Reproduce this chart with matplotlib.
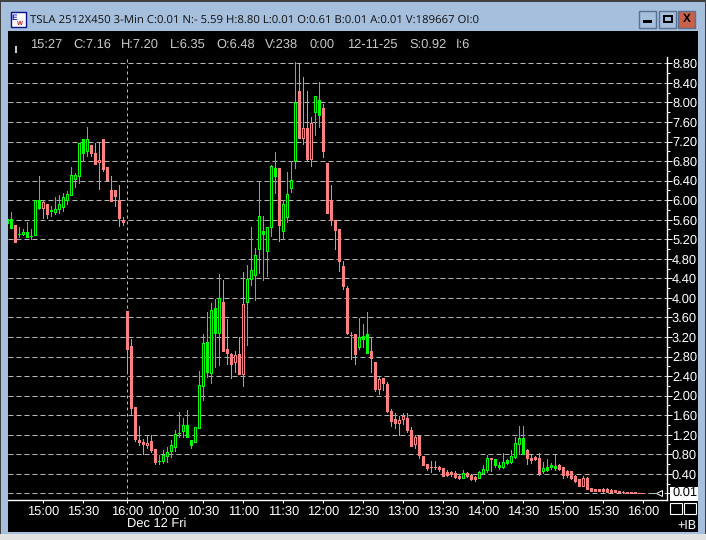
import numpy as np
import matplotlib
matplotlib.use('Agg')
import matplotlib.pyplot as plt
from matplotlib.patches import Rectangle
from matplotlib.transforms import blended_transform_factory

plt.rcParams['font.family'] = ['Liberation Sans', 'DejaVu Sans']
plt.rcParams['lines.scale_dashes'] = False
plt.rcParams['text.hinting'] = 'none'

# 3-min bars
opens = [5.61,5.61,5.49,5.30,5.30,5.34,5.275,5.29,6.00,5.84,
         5.93,5.80,5.75,5.82,5.87,6.00,6.10,6.43,6.49,7.25,
         7.00,7.13,6.97,6.78,7.25,6.67,6.21,6.21,6.01,5.60,
         3.74,3.02,1.76,1.10,1.06,0.98,1.08,0.90,0.67,0.67,
         0.76,0.87,0.95,1.24,1.28,1.39,1.10,1.05,1.34,2.20,
         3.10,2.47,3.80,3.29,3.92,2.96,2.86,2.69,2.86,2.45,
         3.91,4.39,4.46,5.01,5.36,4.96,5.46,6.66,6.66,5.37,
         5.65,6.25,6.80,8.23,7.28,7.47,6.85,7.81,8.06,7.88,
         6.77,6.00,5.60,5.41,4.66,4.21,3.25,3.26,2.99,3.22,
         3.26,2.91,2.69,2.13,2.36,2.24,1.69,1.52,1.43,1.52,
         1.54,1.30,1.00,1.17,0.76,0.59,0.54,0.53,0.53,0.51,
         0.44,0.43,0.41,0.36,0.32,0.41,0.38,0.34,0.32,0.41,
         0.48,0.72,0.71,0.58,0.53,0.68,0.64,0.74,1.00,1.13,
         0.88,0.72,0.74,0.73,0.45,0.53,0.58,0.56,0.58,0.53,
         0.46,0.46,0.36,0.29,0.15,0.32,0.10,0.08,0.08,0.09,
         0.08,0.07,0.06,0.05,0.03,0.03,0.02,0.02,0.015,0.01]
highs = [5.61,5.755,5.49,5.45,5.40,5.56,5.40,6.00,6.50,6.00,
         5.93,5.88,6.06,6.11,6.15,6.19,6.67,6.56,7.17,7.25,
         7.50,7.13,7.16,7.16,7.25,6.67,6.50,6.21,6.30,5.66,
         3.74,3.15,1.76,1.37,1.12,1.20,1.20,0.90,0.78,0.88,
         0.95,1.10,1.30,1.66,1.54,1.70,1.10,1.36,2.50,3.27,
         3.72,3.90,3.97,4.48,4.36,3.56,2.87,2.92,3.19,4.52,
         4.67,5.46,5.02,6.37,5.67,5.46,6.72,6.99,6.66,6.01,
         6.58,6.80,8.82,8.78,8.53,8.23,7.71,8.14,8.41,7.96,
         6.77,6.32,5.60,5.41,4.76,4.25,3.30,3.26,3.59,3.47,
         3.71,3.19,2.69,2.41,2.36,2.28,1.72,1.64,1.59,1.64,
         1.64,1.35,1.20,1.17,0.76,0.59,0.67,0.67,0.55,0.52,
         0.47,0.45,0.45,0.37,0.48,0.44,0.39,0.36,0.45,0.58,
         0.79,0.72,0.71,0.65,0.82,0.71,0.89,1.15,1.37,1.38,
         0.90,0.81,0.77,0.82,0.64,0.71,0.63,0.79,0.60,0.53,
         0.48,0.46,0.38,0.30,0.36,0.34,0.11,0.09,0.09,0.10,
         0.10,0.08,0.07,0.05,0.04,0.03,0.02,0.02,0.015,0.01]
lows = [5.54,5.44,5.15,5.25,5.29,5.25,5.20,5.28,5.82,5.64,
        5.64,5.68,5.72,5.73,5.78,5.93,6.10,6.26,6.35,6.80,
        6.90,6.90,6.75,6.23,6.59,6.41,5.99,5.88,5.47,5.49,
        2.47,1.63,1.07,0.98,0.80,0.93,0.85,0.59,0.59,0.62,
        0.65,0.74,0.87,1.15,1.15,1.15,0.93,1.05,1.34,1.91,
        2.39,2.26,2.59,2.62,2.91,2.65,2.37,2.49,2.45,2.20,
        3.04,4.26,3.95,4.50,4.37,4.44,5.26,6.15,5.17,5.21,
        5.56,6.16,6.65,7.28,7.14,6.80,6.69,7.34,7.49,6.89,
        5.74,5.49,5.00,4.54,4.19,3.26,2.75,2.65,2.95,2.99,
        2.87,2.48,2.09,2.03,2.11,1.66,1.37,1.33,1.20,1.41,
        1.25,0.96,0.92,0.72,0.57,0.47,0.43,0.50,0.45,0.35,
        0.36,0.36,0.32,0.30,0.31,0.33,0.28,0.25,0.31,0.40,
        0.44,0.46,0.53,0.49,0.51,0.60,0.62,0.73,0.81,0.81,
        0.60,0.62,0.68,0.38,0.42,0.46,0.49,0.47,0.47,0.32,
        0.34,0.29,0.24,0.14,0.14,0.08,0.04,0.04,0.04,0.03,
        0.03,0.02,0.02,0.02,0.01,0.015,0.015,0.01,0.01,0.01]
closes = [5.54,5.44,5.15,5.30,5.34,5.25,5.275,6.00,5.84,5.96,
          5.72,5.77,5.82,5.93,6.06,6.13,6.52,6.52,7.17,6.97,
          7.25,6.97,6.75,6.83,6.64,6.41,5.99,6.09,5.64,5.56,
          2.95,1.75,1.11,1.06,1.01,1.03,0.88,0.65,0.67,0.78,
          0.85,0.98,1.22,1.24,1.39,1.15,0.98,1.36,2.21,3.08,
          2.48,3.76,3.29,4.00,2.92,2.88,2.65,2.83,2.45,3.87,
          4.38,4.58,4.87,5.67,5.31,5.46,6.69,6.50,5.49,5.92,
          6.12,6.41,8.00,7.28,7.47,6.85,7.57,8.14,7.75,7.00,
          5.74,5.60,5.39,4.75,4.25,3.28,3.24,2.85,3.19,3.16,
          2.87,2.77,2.13,2.33,2.26,1.68,1.48,1.43,1.51,1.58,
          1.29,0.96,1.16,0.78,0.57,0.51,0.54,0.53,0.49,0.36,
          0.38,0.39,0.34,0.32,0.41,0.36,0.30,0.29,0.43,0.49,
          0.72,0.71,0.57,0.53,0.64,0.63,0.77,1.03,1.13,0.81,
          0.72,0.68,0.70,0.42,0.51,0.48,0.53,0.52,0.49,0.38,
          0.38,0.31,0.25,0.15,0.32,0.09,0.05,0.05,0.04,0.04,
          0.03,0.03,0.03,0.02,0.02,0.015,0.015,0.01,0.01,0.01]
# G = up on the previous close, R = down
tick_dir = ('GGRGGGGGGRRGGGGGGGGGGRRRRRRRRR' + 'R'*8 + 'G'*16 + 'R'*6 + 'G'*8 + 'R'
            + 'G'*4 + 'R'*4 + 'G'*2 + 'R'*9 + 'G'*3 + 'R'*23 + 'G' + 'R'*3 + 'G'*3
            + 'R' + 'G'*8 + 'R'*4 + 'G'*4 + 'R'*22)

time_pos = [9, 19, 30, 39, 49, 59, 69, 79, 89, 99, 109, 119, 129, 139, 149, 159]
time_labels = ['15:00', '15:30', '16:00', '10:00', '10:30', '11:00', '11:30', '12:00',
               '12:30', '13:00', '13:30', '14:00', '14:30', '15:00', '15:30', '16:00']
price_ticks = [0.40, 0.80, 1.20, 1.60, 2.00, 2.40, 2.80, 3.20, 3.60, 4.00, 4.40,
               4.80, 5.20, 5.60, 6.00, 6.40, 6.80, 7.20, 7.60, 8.00, 8.40, 8.80]
minor_ticks = [0.20, 0.60, 1.00, 1.40, 1.80, 2.20, 2.60, 3.00, 3.40, 3.80, 4.20,
               4.60, 5.00, 5.40, 5.80, 6.20, 6.60, 7.00, 7.40, 7.80, 8.20, 8.60]

title = 'TSLA 2512X450 3-Min C:0.01 N:- 5.59 H:8.80 L:0.01 O:0.61 B:0.01 A:0.01 V:189667 OI:0'
status_labels = ['15:27', 'C:7.16', 'H:7.20', 'L:6.35', 'O:6.48', 'V:238', '0:00',
                 '12-11-25', 'S:0.92', 'I:6']
status_x = [30, 73, 121, 170, 216, 265, 310, 347, 409, 456]

GREEN = '#00ff00'
RED = '#ff8080'
GRID = '#b8b8b8'
W, H = 706, 540
PX = 0.72  # one pixel in points at dpi 100
DASH = (0, (5 * PX, 3 * PX))
LABEL_SIZE = 9.3


def draw_window(fig):
    # window frame, in pixel coordinates
    ax = fig.add_axes([0, 0, 1, 1])
    ax.set_xlim(0, W)
    ax.set_ylim(H, 0)
    ax.axis('off')
    ax.add_patch(Rectangle((0, 0), W, H, fc='#a6bfdc', ec='none'))
    ax.add_patch(Rectangle((0, 0), W, 1.5, fc='#404040', ec='none'))
    ax.add_patch(Rectangle((0, 0), 1, H, fc='#404040', ec='none'))
    ax.add_patch(Rectangle((705, 0), 1, H, fc='#404040', ec='none'))
    ax.add_patch(Rectangle((0, 534), W, 6, fc='#e2e2e2', ec='none'))
    ax.add_patch(Rectangle((8, 31), 690, 501, fc='black', ec='none'))

    # app icon
    ax.add_patch(Rectangle((10.5, 11.5), 15, 15, fc='white', ec='#10108a', lw=1))
    ax.text(11.5, 18, 'E', color='#1010d0', fontsize=6, fontweight='bold', va='center')
    ax.text(17, 23, 'W', color='#d01010', fontsize=4.5, fontweight='bold', va='center')

    ax.text(30, 20, title, color='#101010', fontsize=8.2, va='center', family='Open Sans')

    # window buttons
    for x0, col in [(639, '#a6bfdc'), (659, '#a6bfdc'), (678, '#c8604a')]:
        ax.add_patch(Rectangle((x0, 10.5), 17, 17, fc=col, ec='#5a7090', lw=1))
    ax.add_patch(Rectangle((643, 20), 9, 2.5, fc='black', ec='none'))
    ax.add_patch(Rectangle((663.5, 15.5), 8, 6, fc='none', ec='black', lw=1.4))
    ax.text(686.5, 19, 'X', color='black', fontsize=8.5, fontweight='bold', ha='center', va='center')

    # status line
    ax.add_patch(Rectangle((15, 46), 2, 7, fc='#c8c8c8', ec='none'))
    for x, s in zip(status_x, status_labels):
        ax.text(x, 45, s, color='#c8c8c8', fontsize=LABEL_SIZE, va='center')

    # last price box and the corner boxes under the price scale
    ax.add_patch(Rectangle((670, 487), 28, 14, fc='white', ec='none'))
    for x0 in [670, 684]:
        ax.add_patch(Rectangle((x0, 503), 12, 11, fc='black', ec='white', lw=0.8))
    ax.text(696, 526, '+IB', color='white', fontsize=9, ha='right', va='center')
    ax.text(127, 524, 'Dec 12 Fri', color='white', fontsize=LABEL_SIZE, va='center')


def draw_candles(ax):
    idx = np.arange(len(closes))
    o, h, l, c = map(np.array, (opens, highs, lows, closes))
    colors = np.array([GREEN if d == 'G' else RED for d in tick_dir])

    ax.vlines(idx, l, h, colors=colors, lw=PX, zorder=3, antialiased=False)
    bottom = np.minimum(o, c)
    height = np.abs(c - o)
    # hollow when the bar closed above its open
    faces = np.where(c > o, 'black', colors)
    ax.bar(idx, height, bottom=bottom, width=0.5, color=faces, edgecolor=colors,
           linewidth=PX, zorder=4, antialiased=False)


def main():
    fig = plt.figure(figsize=(W / 100, H / 100), dpi=100)
    draw_window(fig)

    # price pane: x 8..667, y 57..500 in pixels
    ax = fig.add_axes([8 / W, 1 - 500 / H, 659 / W, 443 / H])
    ax.set_facecolor('black')
    ax.set_xlim((8 - 7.3) / 4, (667 - 7.3) / 4)
    ax.set_ylim(-0.137, 8.93)

    draw_candles(ax)

    ax.yaxis.tick_right()
    ax.set_yticks([0.0] + price_ticks)
    ax.set_yticklabels([''] + ['%.2f' % p for p in price_ticks], fontsize=LABEL_SIZE, color='white')
    ax.set_yticks(minor_ticks, minor=True)
    ax.tick_params(axis='y', which='major', length=5 * PX, width=PX, color='white', pad=0)
    ax.tick_params(axis='y', which='minor', length=3 * PX, width=PX, color='white')
    ax.set_xticks(time_pos)
    ax.set_xticklabels(time_labels, fontsize=LABEL_SIZE, color='white')
    ax.tick_params(axis='x', length=3 * PX, width=PX, color='white', pad=2)

    ax.grid(axis='y', which='major', color=GRID, lw=PX, linestyle=DASH, zorder=1)
    ax.axvline(30, color=GRID, lw=PX, linestyle=(0, (3 * PX, 3 * PX)), zorder=1)
    ax.set_axisbelow(True)

    for side in ['left', 'top']:
        ax.spines[side].set_visible(False)
    for side in ['right', 'bottom']:
        ax.spines[side].set_color('white')
        ax.spines[side].set_linewidth(1.0)

    # last price marker and box text
    ax.plot([162.8], [closes[-1]], marker='<', ms=5, mfc='black', mec='white', mew=PX,
            ls='none', zorder=5, clip_on=False)
    ax.plot([160.5, 162.5], [closes[-1]] * 2, color=GRID, lw=PX, zorder=5)
    trans = blended_transform_factory(ax.transAxes, ax.transData)
    ax.text(1.0076, closes[-1], '%.2f' % closes[-1], transform=trans, color='black',
            fontsize=LABEL_SIZE, va='center', ha='left', clip_on=False, zorder=6)

    fig.savefig('out.png', dpi=100, facecolor='black')


if __name__ == '__main__':
    main()
